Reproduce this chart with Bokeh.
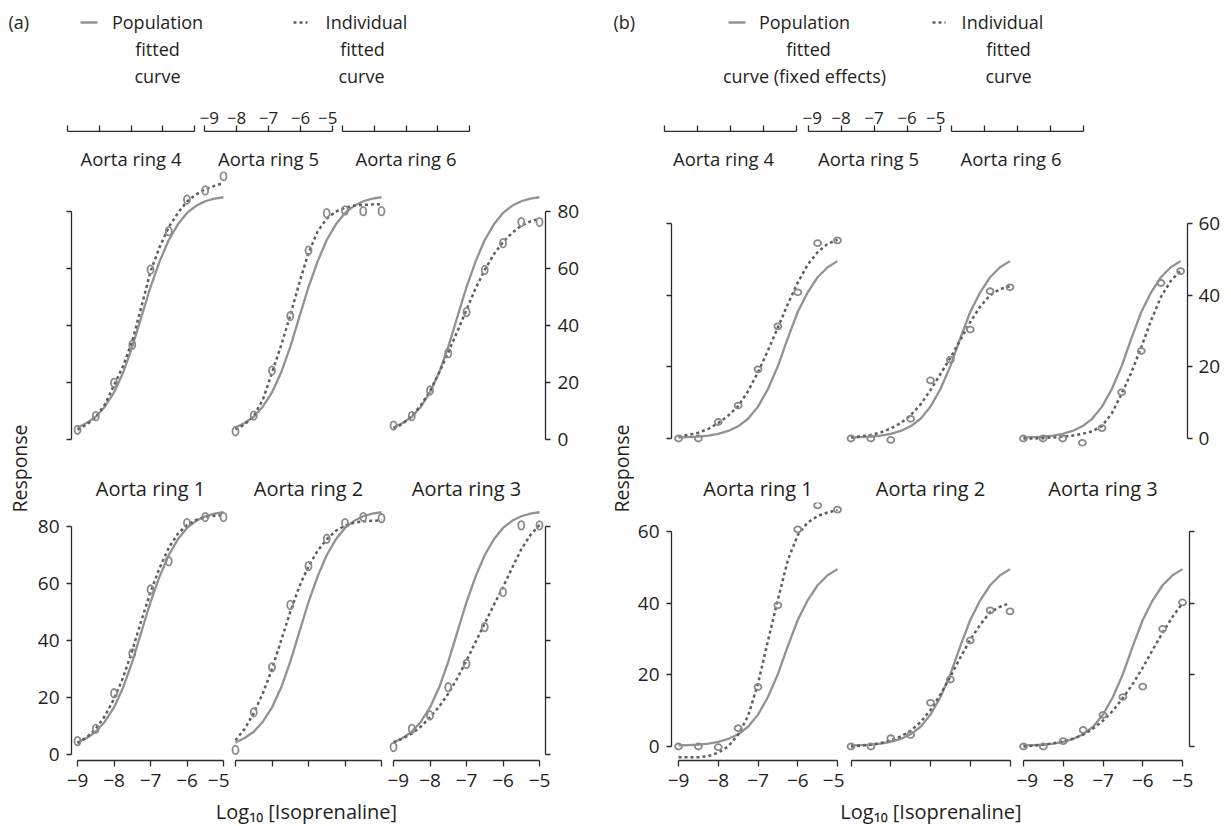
from bokeh.plotting import figure
from bokeh.models import Range1d, LinearAxis, FixedTicker, Spacer
from bokeh.layouts import row, column
from bokeh.embed import file_html
from bokeh.resources import INLINE
from bokeh.core.properties import value
import math

FONT = "Open Sans"
TXT = "#231f20"
POP_C = "#929292"
IND_C = "#5e5e5e"
PT_C = "#8a8a8a"
AX_C = "#2b2b2b"

# ---------------- data ----------------
X_OBS = [-9.0, -8.5, -8.0, -7.5, -7.0, -6.5, -6.0, -5.5, -5.0]
X_FIT = [-9.0, -8.75, -8.5, -8.25, -8.0, -7.75, -7.5, -7.25, -7.0,
         -6.75, -6.5, -6.25, -6.0, -5.75, -5.5, -5.25, -5.0]
X_TICKS = [-9, -8, -7, -6, -5]
X_TICK_LABELS = ["\u22129", "\u22128", "\u22127", "\u22126", "\u22125"]
Y_TICKS_A = [0, 20, 40, 60, 80]
Y_TICKS_B = [0, 20, 40, 60]
TOP_TITLES = ["Aorta ring 4", "Aorta ring 5", "Aorta ring 6"]
BOTTOM_TITLES = ["Aorta ring 1", "Aorta ring 2", "Aorta ring 3"]

# panel (a)
A_POP_FIT = [4.2, 5.8, 8.0, 11.5, 16.5, 23.5, 32.5, 43.0, 53.5, 62.5, 70.0, 75.5, 79.5, 82.0, 83.6, 84.5, 85.0]
A_RING1_OBS = [4.7, 9.0, 21.5, 35.5, 57.9, 67.8, 81.2, 83.3, 83.3]
A_RING1_FIT = [4.0, 6.0, 9.0, 13.5, 19.5, 27.0, 36.5, 47.0, 57.0, 65.5, 72.5, 77.5, 80.5, 82.3, 83.3, 83.8, 84.0]
A_RING2_OBS = [1.6, 14.8, 30.6, 52.5, 66.1, 75.7, 81.2, 83.3, 82.9]
A_RING2_FIT = [5.0, 9.0, 14.5, 21.5, 30.0, 40.0, 50.0, 59.0, 66.0, 71.5, 75.5, 78.5, 80.3, 81.3, 81.8, 82.0, 82.2]
A_RING3_OBS = [2.6, 9.0, 13.7, 23.6, 31.8, 44.7, 57.0, 80.4, 80.4]
A_RING3_FIT = [4.3, 5.6, 7.3, 9.8, 13.0, 16.8, 21.3, 26.8, 33.0, 39.5, 46.0, 52.5, 58.7, 65.5, 72.0, 77.0, 80.5]
A_RING4_OBS = [3.4, 8.2, 19.9, 33.2, 59.6, 73.1, 84.2, 87.4, 92.4]
A_RING4_FIT = [3.5, 5.2, 7.8, 12.3, 19.0, 25.8, 34.5, 46.5, 59.0, 67.5, 74.5, 79.5, 83.5, 86.0, 87.8, 89.0, 90.0]
A_RING5_OBS = [2.9, 8.4, 24.2, 43.3, 66.3, 79.4, 80.4, 80.1, 80.1]
A_RING5_FIT = [3.5, 5.3, 8.2, 14.0, 23.5, 33.0, 43.5, 55.0, 65.5, 73.0, 77.5, 80.0, 81.3, 82.0, 82.3, 82.5, 82.6]
A_RING6_OBS = [4.9, 8.2, 17.2, 30.3, 44.7, 59.5, 68.9, 76.3, 76.3]
A_RING6_FIT = [3.8, 5.5, 8.2, 12.0, 17.0, 23.5, 30.5, 38.0, 45.5, 53.0, 59.5, 65.0, 69.3, 72.5, 75.0, 76.5, 77.5]

# panel (b)
B_POP_FIT = [0.3, 0.4, 0.5, 0.8, 1.3, 2.1, 3.4, 5.5, 8.9, 13.8, 20.2, 28.0, 35.3, 40.8, 45.0, 47.8, 49.5]
B_RING1_OBS = [0.0, 0.0, -0.2, 5.1, 16.6, 39.4, 60.6, 67.3, 66.1]
B_RING1_FIT = [-3.0, -3.0, -3.0, -2.7, -1.7, 0.0, 3.3, 8.5, 17.5, 29.5, 41.0, 52.0, 59.0, 62.5, 64.3, 65.3, 66.0]
B_RING2_OBS = [0.0, 0.0, 2.3, 3.2, 12.2, 18.7, 29.6, 38.0, 37.7]
B_RING2_FIT = [0.0, 0.2, 0.5, 1.0, 1.7, 2.8, 4.4, 6.8, 10.2, 14.5, 19.5, 24.8, 29.8, 34.0, 37.5, 39.0, 40.0]
B_RING3_OBS = [0.0, 0.0, 1.5, 4.6, 8.8, 13.8, 16.7, 32.8, 40.2]
B_RING3_FIT = [0.0, 0.2, 0.5, 0.9, 1.4, 2.2, 3.3, 5.0, 7.2, 10.0, 13.5, 17.5, 22.0, 27.0, 31.8, 36.2, 40.0]
B_RING4_OBS = [0.0, 0.0, 4.6, 9.2, 19.3, 31.3, 40.8, 54.5, 55.3]
B_RING4_FIT = [0.6, 1.0, 1.6, 2.7, 4.3, 6.4, 9.0, 13.2, 18.5, 24.5, 31.0, 37.5, 43.5, 48.5, 52.0, 54.3, 55.5]
B_RING5_OBS = [0.0, 0.0, -0.4, 5.5, 16.2, 22.0, 30.4, 41.1, 42.2]
B_RING5_FIT = [0.3, 0.6, 1.0, 1.7, 2.8, 4.3, 6.5, 9.5, 13.5, 18.0, 22.5, 27.5, 32.5, 36.8, 40.0, 41.7, 42.5]
B_RING6_OBS = [0.0, 0.0, 0.0, -1.2, 2.9, 12.9, 24.4, 43.4, 46.7]
B_RING6_FIT = [0.0, 0.0, 0.1, 0.3, 0.5, 0.8, 1.3, 2.0, 3.5, 7.0, 12.5, 18.5, 25.5, 33.0, 39.5, 44.0, 46.8]


# ---------------- helpers ----------------
def xr(frame_w, pad_px):
    u = 4.0 / (frame_w - 2 * pad_px)
    return (-9 - pad_px * u, -5 + pad_px * u)


def base_fig(width, height, xrange_, yrange_, left=0, right=0, top=0, bottom=0):
    p = figure(width=width, height=height,
               x_range=Range1d(*xrange_), y_range=Range1d(*yrange_),
               x_axis_type=None, y_axis_type=None,
               output_backend="svg", toolbar_location=None,
               min_border_left=left, min_border_right=right,
               min_border_top=top, min_border_bottom=bottom)
    p.outline_line_color = None
    p.border_fill_color = "white"
    p.background_fill_color = "white"
    return p


def text_fig(width, height, x0, y0):
    # coordinates of the strip are page pixels; y is stored as -page_y
    return base_fig(width, height, (x0, x0 + width), (-(y0 + height), -y0))


def add_axis(p, side, ticks, labels=None, size="19px", standoff=7, tick_out=6):
    ax = LinearAxis(ticker=FixedTicker(ticks=ticks), bounds=(min(ticks), max(ticks)))
    ax.axis_line_color = AX_C
    ax.axis_line_width = 1.3
    ax.major_tick_line_color = AX_C
    ax.major_tick_line_width = 1.3
    ax.major_tick_out = tick_out
    ax.major_tick_in = 0
    ax.minor_tick_line_color = None
    ax.major_label_text_font = FONT
    ax.major_label_text_font_size = size
    ax.major_label_text_color = TXT
    ax.major_label_standoff = standoff
    if labels is None:
        ax.major_label_overrides = {t: "" for t in ticks}
    else:
        ax.major_label_overrides = {t: l for t, l in zip(ticks, labels)}
    p.add_layout(ax, side)
    return ax


def put_text(p, xs, ys, texts, size, align="center", angle=0.0):
    p.text(x=xs, y=[-v for v in ys], text=texts, text_font=value(FONT),
           text_font_size=size, text_color=TXT, text_align=align,
           text_baseline="middle", angle=angle)


def draw(p, pop, ind, obs, ew, eh):
    p.line(X_FIT, pop, line_color=POP_C, line_width=2.3)
    p.line(X_FIT, ind, line_color=IND_C, line_width=2.5, line_dash="3 3")
    p.ellipse(X_OBS, obs, width=ew, height=eh, width_units="screen", height_units="screen",
              fill_color=None, line_color=PT_C, line_width=1.8)


def legend_fig(width, x0, tag, tag_x, solid_x, pop_lines, dot_x, ind_lines):
    p = text_fig(width, 87, x0, 8)
    put_text(p, [tag_x], [21.5], [tag], "18px", align="left")
    p.line(solid_x, [-22, -22], line_color=POP_C, line_width=2.5)
    p.line(dot_x, [-22, -22], line_color=IND_C, line_width=2.5, line_dash="3 3")
    for (t, cx, cy) in pop_lines + ind_lines:
        put_text(p, [cx], [cy], [t], "18px")
    return p


# vertical geometry (page pixels)
TOP_F0, TOP_F1 = 171, 446
TOP_PAD = 10                      # room under the top row for its lowest tick label
TITLE_Y0 = TOP_F1 + TOP_PAD
BOT_F0, BOT_F1 = 502, 760
XL_Y0, XL_H = 796, 29

# ---------------- panel (a) ----------------
legA = legend_fig(606, 0, "(a)", 8, [80, 97],
                  [("Population", 157, 21.5), ("fitted", 157, 48.5), ("curve", 157, 75.5)],
                  [293, 307],
                  [("Individual", 366, 21.5), ("fitted", 362, 48.5), ("curve", 361, 75.5)])

respA = text_fig(32, 701, 0, 95)
put_text(respA, [18.5], [468], ["Response"], "19.5px", angle=math.pi / 2)

sA4 = base_fig(167, 37, xr(137, 5), (0, 1), left=30, top=36)
add_axis(sA4, "above", X_TICKS)
sA5 = base_fig(138, 37, xr(138, 5), (0, 1), top=36)
add_axis(sA5, "above", X_TICKS, X_TICK_LABELS, size="17px", standoff=2)
sA6 = base_fig(269, 37, xr(137, 5), (0, 1), right=132, top=36)
add_axis(sA6, "above", X_TICKS)

stA = text_fig(574, TOP_F0 - 132, 32, 132)
put_text(stA, [130.5, 268, 405.5], [158, 158, 158], TOP_TITLES, "18.5px")

YA_TOP = (-(TOP_F1 - 439) / 2.85, (439 - TOP_F0) / 2.85)
YA_BOT = (-(BOT_F1 - 754) / 2.85, (754 - BOT_F0) / 2.85)
XA = xr(158, 6)
HT = TOP_F1 - TOP_F0 + TOP_PAD
HB = BOT_F1 - BOT_F0 + 36

tA4 = base_fig(197, HT, XA, YA_TOP, left=39, bottom=TOP_PAD)
add_axis(tA4, "left", Y_TICKS_A, tick_out=5)
draw(tA4, A_POP_FIT, A_RING4_FIT, A_RING4_OBS, 6, 8.5)
tA5 = base_fig(158, HT, XA, YA_TOP, bottom=TOP_PAD)
draw(tA5, A_POP_FIT, A_RING5_FIT, A_RING5_OBS, 6, 8.5)
tA6 = base_fig(219, HT, XA, YA_TOP, right=61, bottom=TOP_PAD)
add_axis(tA6, "right", Y_TICKS_A, [str(t) for t in Y_TICKS_A], tick_out=5)
draw(tA6, A_POP_FIT, A_RING6_FIT, A_RING6_OBS, 6, 8.5)

ttA = text_fig(574, BOT_F0 - TITLE_Y0, 32, TITLE_Y0)
put_text(ttA, [150, 308, 466], [488, 488, 488], BOTTOM_TITLES, "20px")

bA1 = base_fig(197, HB, XA, YA_BOT, left=39, bottom=36)
add_axis(bA1, "left", Y_TICKS_A, [str(t) for t in Y_TICKS_A], tick_out=5)
add_axis(bA1, "below", X_TICKS, X_TICK_LABELS, standoff=7)
draw(bA1, A_POP_FIT, A_RING1_FIT, A_RING1_OBS, 6, 8.5)
bA2 = base_fig(158, HB, XA, YA_BOT, bottom=36)
add_axis(bA2, "below", X_TICKS)
draw(bA2, A_POP_FIT, A_RING2_FIT, A_RING2_OBS, 6, 8.5)
bA3 = base_fig(219, HB, XA, YA_BOT, right=61, bottom=36)
add_axis(bA3, "right", Y_TICKS_A, tick_out=5)
add_axis(bA3, "below", X_TICKS, X_TICK_LABELS, standoff=7)
draw(bA3, A_POP_FIT, A_RING3_FIT, A_RING3_OBS, 6, 8.5)

xlA = text_fig(606, XL_H, 0, XL_Y0)
put_text(xlA, [306], [810.5], ["Log\u2081\u2080 [Isoprenaline]"], "20px")

panelA = column(legA,
                row(respA, column(row(sA4, sA5, sA6), stA,
                                  row(tA4, tA5, tA6), ttA,
                                  row(bA1, bA2, bA3))),
                xlA)

# ---------------- panel (b) ----------------
legB = legend_fig(617, 606, "(b)", 613, [728, 745],
                  [("Population", 804, 21.5), ("fitted", 808, 48.5), ("curve (fixed effects)", 804, 75.5)],
                  [932, 945],
                  [("Individual", 1002, 21.5), ("fitted", 1008, 48.5), ("curve", 1008, 75.5)])

respB = text_fig(28, 701, 606, 95)
put_text(respB, [620.5], [468], ["Response"], "19.5px", angle=math.pi / 2)

sB4 = base_fig(168, 37, xr(144, 6), (0, 1), left=24, top=36)
add_axis(sB4, "above", X_TICKS)
sB5 = base_fig(143, 37, xr(143, 5.5), (0, 1), top=36)
add_axis(sB5, "above", X_TICKS, X_TICK_LABELS, size="17px", standoff=2)
sB6 = base_fig(278, 37, xr(144, 6), (0, 1), right=134, top=36)
add_axis(sB6, "above", X_TICKS)

stB = text_fig(589, TOP_F0 - 132, 634, 132)
put_text(stB, [723, 868, 1010.5], [158, 158, 158], TOP_TITLES, "18.5px")

PXB = 215 / 60.0
YB_TOP = (-(TOP_F1 - 438) / PXB, (438 - TOP_F0) / PXB)
YB_BOT = (-(BOT_F1 - 746) / PXB, (746 - BOT_F0) / PXB)
XB1 = xr(173, 7)
XB2 = xr(172, 6.5)

tB4 = base_fig(210, HT, XB1, YB_TOP, left=37, bottom=TOP_PAD)
add_axis(tB4, "left", Y_TICKS_B, tick_out=5)
draw(tB4, B_POP_FIT, B_RING4_FIT, B_RING4_OBS, 7, 6)
tB5 = base_fig(172, HT, XB2, YB_TOP, bottom=TOP_PAD)
draw(tB5, B_POP_FIT, B_RING5_FIT, B_RING5_OBS, 7, 6)
tB6 = base_fig(207, HT, XB1, YB_TOP, right=34, bottom=TOP_PAD)
add_axis(tB6, "right", Y_TICKS_B, [str(t) for t in Y_TICKS_B], tick_out=5, standoff=6)
draw(tB6, B_POP_FIT, B_RING6_FIT, B_RING6_OBS, 7, 6)

ttB = text_fig(589, BOT_F0 - TITLE_Y0, 634, TITLE_Y0)
put_text(ttB, [757.5, 930, 1102.5], [488, 488, 488], BOTTOM_TITLES, "20px")

bB1 = base_fig(210, HB, XB1, YB_BOT, left=37, bottom=36)
add_axis(bB1, "left", Y_TICKS_B, [str(t) for t in Y_TICKS_B], tick_out=5)
add_axis(bB1, "below", X_TICKS, X_TICK_LABELS, standoff=7)
draw(bB1, B_POP_FIT, B_RING1_FIT, B_RING1_OBS, 7, 6)
bB2 = base_fig(172, HB, XB2, YB_BOT, bottom=36)
add_axis(bB2, "below", X_TICKS)
draw(bB2, B_POP_FIT, B_RING2_FIT, B_RING2_OBS, 7, 6)
bB3 = base_fig(207, HB, XB1, YB_BOT, right=34, bottom=36)
add_axis(bB3, "right", Y_TICKS_B, tick_out=5)
add_axis(bB3, "below", X_TICKS, X_TICK_LABELS, standoff=7)
draw(bB3, B_POP_FIT, B_RING3_FIT, B_RING3_OBS, 7, 6)

xlB = text_fig(617, XL_H, 606, XL_Y0)
put_text(xlB, [930.5], [810.5], ["Log\u2081\u2080 [Isoprenaline]"], "20px")

panelB = column(legB,
                row(respB, column(row(sB4, sB5, sB6), stB,
                                  row(tB4, tB5, tB6), ttB,
                                  row(bB1, bB2, bB3))),
                xlB)

layout = column(Spacer(width=8, height=8), row(panelA, panelB))
open("out.html", "w").write(file_html(layout, INLINE))
